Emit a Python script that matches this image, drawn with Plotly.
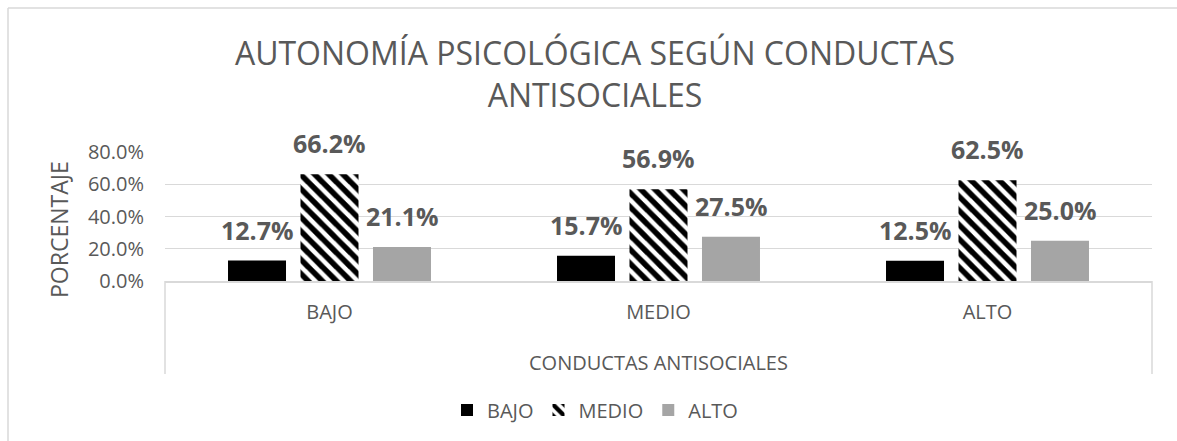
import plotly.graph_objects as go

categories = ["BAJO", "MEDIO", "ALTO"]
series_names = ["BAJO", "MEDIO", "ALTO"]
bajo_vals = [0.127, 0.157, 0.125]
medio_vals = [0.662, 0.569, 0.625]
alto_vals = [0.211, 0.275, 0.250]
y_ticks = [0.0, 0.2, 0.4, 0.6, 0.8]

title_text = "AUTONOMÍA PSICOLÓGICA SEGÚN CONDUCTAS<br>ANTISOCIALES"
y_title = "PORCENTAJE"
x_title = "CONDUCTAS ANTISOCIALES"

W, H = 1177, 441
PL, PR, PT, PB = 165, 1152, 152, 281  # plot area in px
pw, ph = PR - PL, PB - PT

def px_x(x):
    return (x - PL) / pw

def px_y(y):
    return (PB - y) / ph

TXT = "#595959"
GRID = "#d9d9d9"
FONT = "Open Sans"

fig = go.Figure()
fig.add_trace(go.Bar(name=series_names[0], x=categories, y=bajo_vals,
                     marker=dict(color="#000000", line=dict(width=0))))
fig.add_trace(go.Bar(name=series_names[1], x=categories, y=medio_vals,
                     marker=dict(color="#ffffff", line=dict(width=0),
                                 pattern=dict(shape="\\", fgcolor="#000000",
                                              bgcolor="#ffffff", size=10,
                                              solidity=0.55, fgopacity=1,
                                              fillmode="replace"))))
fig.add_trace(go.Bar(name=series_names[2], x=categories, y=alto_vals,
                     marker=dict(color="#a5a5a5", line=dict(width=0))))

# data labels
slot_px = 72.5
annotations = []
for si, vals in enumerate([bajo_vals, medio_vals, alto_vals]):
    for ci, v in enumerate(vals):
        annotations.append(dict(
            x=categories[ci], y=v, xref="x", yref="y",
            text=f"{v*100:.1f}%", showarrow=False,
            xshift=(si - 1) * slot_px, yshift=12, yanchor="bottom",
            font=dict(family=FONT, size=25, color=TXT, weight="bold"),
        ))

annotations.append(dict(
    text=y_title, textangle=-90, xref="paper", yref="paper",
    x=px_x(59), y=px_y(230), showarrow=False, xanchor="center", yanchor="middle",
    font=dict(family=FONT, size=23, color=TXT)))
annotations.append(dict(
    text=x_title, xref="paper", yref="paper",
    x=px_x(658), y=px_y(362), showarrow=False, xanchor="center", yanchor="middle",
    font=dict(family=FONT, size=20, color=TXT)))

shapes = [
    # category box verticals
    dict(type="line", xref="paper", yref="paper", x0=0, x1=0, y0=0, y1=px_y(374),
         line=dict(color=GRID, width=1.5)),
    dict(type="line", xref="paper", yref="paper", x0=1, x1=1, y0=0, y1=px_y(374),
         line=dict(color=GRID, width=1.5)),
    # outer chart border (top and left visible)
    dict(type="line", xref="paper", yref="paper", x0=px_x(8), x1=px_x(1190),
         y0=px_y(8), y1=px_y(8), line=dict(color=GRID, width=1.5)),
    dict(type="line", xref="paper", yref="paper", x0=px_x(8), x1=px_x(8),
         y0=px_y(8), y1=px_y(460), line=dict(color=GRID, width=1.5)),
]

fig.update_layout(
    width=W, height=H,
    margin=dict(l=PL, r=W - PR, t=PT, b=H - PB, autoexpand=False),
    paper_bgcolor="white", plot_bgcolor="white",
    barmode="group", bargap=0.339, bargroupgap=0.2,
    title=dict(text=title_text, x=595 / W, xanchor="center", xref="container",
               y=1 - 65 / H, yanchor="top", yref="container",
               font=dict(family=FONT, size=32, color=TXT)),
    legend=dict(orientation="h", xref="container", yref="container",
                x=595 / W, xanchor="center", y=1 - 410 / H, yanchor="middle",
                font=dict(family=FONT, size=20, color=TXT), itemwidth=30,
                traceorder="normal"),
    annotations=annotations,
    shapes=shapes,
    showlegend=True,
)
fig.update_yaxes(range=[0, 0.8], tickvals=y_ticks, tickformat=".1%",
                 showgrid=True, gridcolor=GRID, gridwidth=1,
                 zeroline=False, showline=False, ticks="",
                 tickfont=dict(family=FONT, size=20, color=TXT),
                 ticklabelstandoff=20)
fig.update_xaxes(showline=True, linecolor=GRID, linewidth=1.5, ticks="",
                 tickfont=dict(family=FONT, size=20, color=TXT),
                 ticklabelstandoff=12)

fig.write_html("out.html", config={"displayModeBar": False},
               post_script="document.body.style.margin='0';document.body.style.overflow='hidden';")
